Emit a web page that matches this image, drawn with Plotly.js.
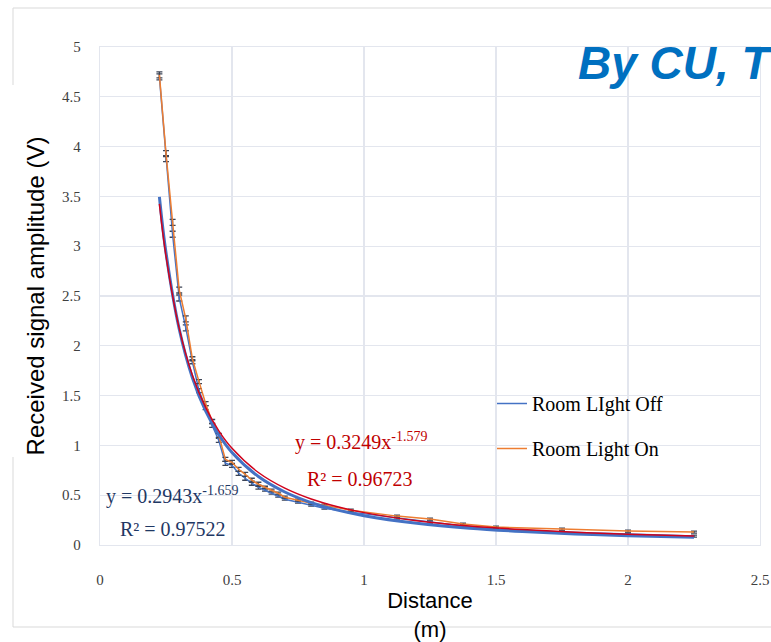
<!DOCTYPE html>
<html>
<head>
<meta charset="utf-8">
<script src="https://cdn.plot.ly/plotly-3.0.1.min.js"></script>
<style>html,body{margin:0;padding:0;background:#fff;}#chart{width:771px;height:642px;}</style>
</head>
<body>
<div id="chart"></div>
<script>
// ---- data ----
const distance = [0.225,0.25,0.275,0.3,0.325,0.35,0.375,0.4,0.425,0.45,0.475,0.5,0.525,0.55,0.575,0.6,0.625,0.65,0.675,0.7,0.75,0.8,0.85,0.95,1.125,1.25,1.375,1.5,1.75,2.0,2.25];
const lightOff = [4.70,3.88,3.12,2.48,2.18,1.84,1.55,1.38,1.20,1.05,0.82,0.80,0.72,0.67,0.62,0.58,0.55,0.52,0.49,0.46,0.43,0.40,0.37,0.33,0.27,0.23,0.19,0.16,0.13,0.11,0.09];
const lightOn  = [4.72,3.93,3.24,2.56,2.27,1.87,1.64,1.42,1.24,1.10,0.86,0.83,0.76,0.71,0.65,0.61,0.58,0.55,0.52,0.48,0.45,0.42,0.40,0.35,0.29,0.26,0.21,0.18,0.16,0.14,0.13];
const errOff = [0.03,0.03,0.03,0.03,0.03,0.02,0.02,0.02,0.02,0.02,0.02,0.02,0.02,0.02,0.02,0.02,0.01,0.01,0.01,0.01,0.01,0.01,0.01,0.01,0.01,0.01,0.01,0.01,0.01,0.01,0.01];
const errOn  = [0.03,0.03,0.03,0.03,0.03,0.02,0.02,0.02,0.02,0.02,0.02,0.02,0.02,0.02,0.02,0.02,0.01,0.01,0.01,0.01,0.01,0.01,0.01,0.01,0.01,0.01,0.01,0.01,0.01,0.01,0.01];

// power trend lines as drawn in the reference
const fitX    = [0.225,0.25,0.3,0.35,0.4,0.45,0.5,0.6,0.7,0.8,0.9,1.0,1.2,1.4,1.6,1.8,2.0,2.25];
const fitOffY = [3.496,2.935,2.169,1.680,1.346,1.107,0.929,0.687,0.532,0.426,0.350,0.294,0.218,0.168,0.135,0.111,0.093,0.077];
const fitOnY  = [3.425,2.900,2.175,1.705,1.381,1.146,0.971,0.728,0.571,0.462,0.384,0.325,0.244,0.191,0.155,0.128,0.109,0.090];

const xTicks = [0,0.5,1,1.5,2,2.5];
const xTickText = ['0','0.5','1','1.5','2','2.5'];
const yTicks = [0,0.5,1,1.5,2,2.5,3,3.5,4,4.5,5];
const yTickText = ['0','0.5','1','1.5','2','2.5','3','3.5','4','4.5','5'];

const serif = 'Liberation Serif, Times New Roman, serif';
const sans = 'Liberation Sans, Arial, sans-serif';
const gridC = '#e3e6ee';

const traces = [
  {x: distance, y: lightOff, type:'scatter', mode:'lines', name:'Room LIght Off', legendgroup:'a',
   line:{color:'#4472C4', width:1.5},
   error_y:{type:'data', array: errOff, visible:true, color:'#3c4456', thickness:1.3, width:3}},
  {x: distance, y: lightOn, type:'scatter', mode:'lines', name:'Room Light On', legendgroup:'b',
   line:{color:'#ED7D31', width:1.5},
   error_y:{type:'data', array: errOn, visible:true, color:'#3c4456', thickness:1.3, width:3}},
  {x: fitX, y: fitOffY, type:'scatter', mode:'lines', showlegend:false, hoverinfo:'skip',
   line:{color:'#4472C4', width:3, shape:'spline'}},
  {x: fitX, y: fitOnY, type:'scatter', mode:'lines', showlegend:false, hoverinfo:'skip',
   line:{color:'#D0021B', width:1.5, shape:'spline'}}
];

const X0 = 100, X1 = 760, Y0 = 545, Y1 = 47;
const px = v => (v - X0) / (X1 - X0);
const py = v => (Y0 - v) / (Y0 - Y1);

const layout = {
  width: 771, height: 642,
  margin: {l: X0, r: 771 - X1, t: Y1, b: 642 - Y0, pad: 0},
  paper_bgcolor: '#ffffff', plot_bgcolor: '#ffffff',
  showlegend: true,
  legend: {x: px(492), y: py(384), xanchor:'left', yanchor:'top', bgcolor:'rgba(0,0,0,0)',
           font:{family: serif, size: 20, color:'#000'}, traceorder:'grouped', tracegroupgap: 16},
  xaxis: {range:[0,2.5], tickvals: xTicks, ticktext: xTickText, showgrid:true, gridcolor: gridC, gridwidth:1.2,
          zeroline:false, showline:true, linecolor: gridC, linewidth:1.2, mirror:true,
          ticks:'outside', ticklen:21, tickcolor:'rgba(0,0,0,0)',
          tickfont:{family: serif, size: 15, color:'#404040'},
          title:{text:'Distance<br>(m)', font:{family: sans, size: 22, color:'#000'}, standoff: 10}},
  yaxis: {range:[0,5], tickvals: yTicks, ticktext: yTickText, showgrid:true, gridcolor: gridC, gridwidth:1.2,
          zeroline:false, showline:true, linecolor: gridC, linewidth:1.2, mirror:true,
          ticks:'outside', ticklen:15, tickcolor:'rgba(0,0,0,0)',
          tickfont:{family: serif, size: 15, color:'#404040'},
          title:{text:'Received signal amplitude (V)', font:{family: sans, size: 24, color:'#000'}, standoff: 10}},
  shapes: [
    {type:'line', xref:'paper', yref:'paper', x0:px(13), x1:px(13), y0:py(8), y1:py(85), line:{color:'#d9d9d9', width:1}},
    {type:'line', xref:'paper', yref:'paper', x0:px(13), x1:px(13), y0:py(457), y1:py(627), line:{color:'#d9d9d9', width:1}},
    {type:'line', xref:'paper', yref:'paper', x0:px(13), x1:px(790), y0:py(8), y1:py(8), line:{color:'#d9d9d9', width:1}},
    {type:'line', xref:'paper', yref:'paper', x0:px(13), x1:px(790), y0:py(627), y1:py(627), line:{color:'#d9d9d9', width:1}}
  ],
  annotations: [
    {text:'<b><i>By CU, T</i></b>', xref:'paper', yref:'paper', x:px(576), y:py(63), xanchor:'left', yanchor:'middle',
     showarrow:false, font:{family: sans, size: 46, color:'#0070C0'}},
    {text:'y = 0.3249x<sup>-1.579</sup>', xref:'paper', yref:'paper', x:px(293), y:py(441), xanchor:'left', yanchor:'middle',
     showarrow:false, font:{family: serif, size: 20, color:'#C00000'}},
    {text:'R² = 0.96723', xref:'paper', yref:'paper', x:px(305), y:py(479), xanchor:'left', yanchor:'middle',
     showarrow:false, font:{family: serif, size: 20, color:'#C00000'}},
    {text:'y = 0.2943x<sup>-1.659</sup>', xref:'paper', yref:'paper', x:px(104), y:py(495), xanchor:'left', yanchor:'middle',
     showarrow:false, font:{family: serif, size: 20, color:'#1F3864'}},
    {text:'R² = 0.97522', xref:'paper', yref:'paper', x:px(118), y:py(529), xanchor:'left', yanchor:'middle',
     showarrow:false, font:{family: serif, size: 20, color:'#1F3864'}}
  ]
};

Plotly.newPlot('chart', traces, layout, {displayModeBar:false, staticPlot:true});
</script>
</body>
</html>
